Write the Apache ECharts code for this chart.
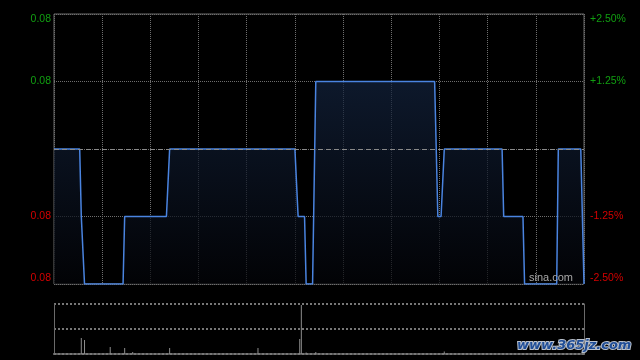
<!DOCTYPE html>
<html><head><meta charset="utf-8">
<script src="https://cdn.jsdelivr.net/npm/echarts@6/dist/echarts.min.js"></script>
<style>html,body{margin:0;padding:0;background:#000;}#c{width:640px;height:360px;}</style>
</head><body><div id="c"></div>
<script>
// previous close and per-minute prices (HK session: 09:30-12:00, 13:00-16:00, 331 points)
const preClose = 0.080;
const prices = [
0.080,0.080,0.080,0.080,0.080,0.080,0.080,0.080,0.080,0.080,
0.080,0.080,0.080,0.080,0.080,0.080,0.080,0.079,0.079,0.078,
0.078,0.078,0.078,0.078,0.078,0.078,0.078,0.078,0.078,0.078,
0.078,0.078,0.078,0.078,0.078,0.078,0.078,0.078,0.078,0.078,
0.078,0.078,0.078,0.078,0.079,0.079,0.079,0.079,0.079,0.079,
0.079,0.079,0.079,0.079,0.079,0.079,0.079,0.079,0.079,0.079,
0.079,0.079,0.079,0.079,0.079,0.079,0.079,0.079,0.079,0.079,
0.079,0.079,0.080,0.080,0.080,0.080,0.080,0.080,0.080,0.080,
0.080,0.080,0.080,0.080,0.080,0.080,0.080,0.080,0.080,0.080,
0.080,0.080,0.080,0.080,0.080,0.080,0.080,0.080,0.080,0.080,
0.080,0.080,0.080,0.080,0.080,0.080,0.080,0.080,0.080,0.080,
0.080,0.080,0.080,0.080,0.080,0.080,0.080,0.080,0.080,0.080,
0.080,0.080,0.080,0.080,0.080,0.080,0.080,0.080,0.080,0.080,
0.080,0.080,0.080,0.080,0.080,0.080,0.080,0.080,0.080,0.080,
0.080,0.080,0.080,0.080,0.080,0.080,0.080,0.080,0.080,0.080,
0.080,0.080,0.079,0.079,0.079,0.079,0.079,0.078,0.078,0.078,
0.078,0.078,0.078,0.081,0.081,0.081,0.081,0.081,0.081,0.081,
0.081,0.081,0.081,0.081,0.081,0.081,0.081,0.081,0.081,0.081,
0.081,0.081,0.081,0.081,0.081,0.081,0.081,0.081,0.081,0.081,
0.081,0.081,0.081,0.081,0.081,0.081,0.081,0.081,0.081,0.081,
0.081,0.081,0.081,0.081,0.081,0.081,0.081,0.081,0.081,0.081,
0.081,0.081,0.081,0.081,0.081,0.081,0.081,0.081,0.081,0.081,
0.081,0.081,0.081,0.081,0.081,0.081,0.081,0.081,0.081,0.081,
0.081,0.081,0.081,0.081,0.081,0.081,0.081,0.081,0.081,0.079,
0.079,0.079,0.079,0.080,0.080,0.080,0.080,0.080,0.080,0.080,
0.080,0.080,0.080,0.080,0.080,0.080,0.080,0.080,0.080,0.080,
0.080,0.080,0.080,0.080,0.080,0.080,0.080,0.080,0.080,0.080,
0.080,0.080,0.080,0.080,0.080,0.080,0.080,0.080,0.080,0.080,
0.079,0.079,0.079,0.079,0.079,0.079,0.079,0.079,0.079,0.079,
0.079,0.079,0.079,0.078,0.078,0.078,0.078,0.078,0.078,0.078,
0.078,0.078,0.078,0.078,0.078,0.078,0.078,0.078,0.078,0.078,
0.078,0.078,0.078,0.078,0.080,0.080,0.080,0.080,0.080,0.080,
0.080,0.080,0.080,0.080,0.080,0.080,0.080,0.080,0.080,0.080,
0.078
];
// minutes with trades and their volumes (thousand shares)
const volMinutes = [17, 19, 35, 44, 49, 72, 127, 153, 154, 157, 163, 243];
const volValues  = [160, 140, 70, 60, 20, 60, 60, 150, 490, 15, 20, 25];
const volMax = 500;
// price axis
const priceMin = 0.078, priceMax = 0.082, priceStep = 0.001;
const leftLabels  = ['0.08', '0.08', '', '0.08', '0.08'];
const rightLabels = ['-2.50%', '-1.25%', '', '+1.25%', '+2.50%'];
const totalMinutes = 330;

const UP = '#119f11', DOWN = '#d40000';
const FONT = 'Liberation Sans, Arial, sans-serif';
const labelColor = (v, i) => (i > 2 ? UP : DOWN);

const priceData = prices.map((p, i) => [i, p]);
const volData = volMinutes.map((m, i) => [m, volValues[i]]);

const chart = echarts.init(document.getElementById('c'), null, {renderer: 'canvas'});
chart.setOption({
  backgroundColor: '#000',
  animation: false,
  grid: [
    {left: 54, right: 56, top: 14, height: 270, show: true, borderColor: '#6a6a6a', borderWidth: 1, backgroundColor: 'transparent'},
    {left: 54, right: 56, top: 304, height: 50}
  ],
  xAxis: [
    {gridIndex: 0, type: 'value', min: 0, max: totalMinutes, interval: 30,
     axisLine: {show: false}, axisTick: {show: false}, axisLabel: {show: false},
     splitLine: {show: true, lineStyle: {color: '#6e6e6e', type: 'dotted', width: 1}}},
    {gridIndex: 1, type: 'value', min: 0, max: totalMinutes, interval: 30,
     axisLine: {show: true, onZero: false, lineStyle: {color: '#777', type: 'dotted', width: 2}},
     axisTick: {show: false}, axisLabel: {show: false}, splitLine: {show: false}}
  ],
  yAxis: [
    {gridIndex: 0, type: 'value', min: priceMin, max: priceMax, interval: priceStep, position: 'left',
     axisLine: {show: false}, axisTick: {show: false},
     axisLabel: {margin: 3, fontSize: 10.5, fontFamily: FONT, color: labelColor,
       verticalAlignMinLabel: 'bottom', verticalAlignMaxLabel: 'top',
       formatter: (v, i) => leftLabels[i]},
     splitLine: {show: true, lineStyle: {color: '#6e6e6e', type: 'dotted', width: 1}}},
    {gridIndex: 0, type: 'value', min: priceMin, max: priceMax, interval: priceStep, position: 'right',
     axisLine: {show: false}, axisTick: {show: false},
     axisLabel: {margin: 6, fontSize: 10.5, fontFamily: FONT, color: labelColor,
       verticalAlignMinLabel: 'bottom', verticalAlignMaxLabel: 'top',
       formatter: (v, i) => rightLabels[i]},
     splitLine: {show: false}},
    {gridIndex: 1, type: 'value', min: 0, max: volMax, interval: volMax / 2, position: 'left',
     axisLine: {show: true, lineStyle: {color: '#6a6a6a'}}, axisTick: {show: false}, axisLabel: {show: false},
     splitLine: {show: true, lineStyle: {color: '#777', type: 'dotted', width: 2}}},
    {gridIndex: 1, type: 'value', min: 0, max: volMax, interval: volMax / 2, position: 'right',
     axisLine: {show: true, lineStyle: {color: '#6a6a6a'}}, axisTick: {show: false}, axisLabel: {show: false},
     splitLine: {show: false}}
  ],
  series: [
    {type: 'line', xAxisIndex: 0, yAxisIndex: 0, data: priceData, showSymbol: false, symbol: 'none',
     lineStyle: {color: '#4a84e0', width: 1.5},
     areaStyle: {origin: 'start', color: new echarts.graphic.LinearGradient(0, 0, 0, 1, [
       {offset: 0, color: '#13233e'}, {offset: 1, color: '#030408'}])},
     markLine: {silent: true, symbol: 'none', label: {show: false},
       lineStyle: {color: '#8a8a8a', type: [5, 3], width: 1},
       data: [{yAxis: preClose}]},
     z: 3},
    {type: 'bar', xAxisIndex: 1, yAxisIndex: 2, data: volData, barWidth: 1,
     itemStyle: {color: '#8c8c8c'}}
  ],
  graphic: [
    {type: 'text', right: 67, top: 272, z: 10,
     style: {text: 'sina.com', fill: '#a8a8a8', font: '11px ' + FONT}},
    {type: 'text', left: 516, top: 338, z: 10,
     style: {text: 'www.365jz.com', fill: '#1f4d97', stroke: '#b8c0cc', lineWidth: 2,
       font: 'bold italic 13px DejaVu Sans'}}
  ]
});
</script>
</body></html>
